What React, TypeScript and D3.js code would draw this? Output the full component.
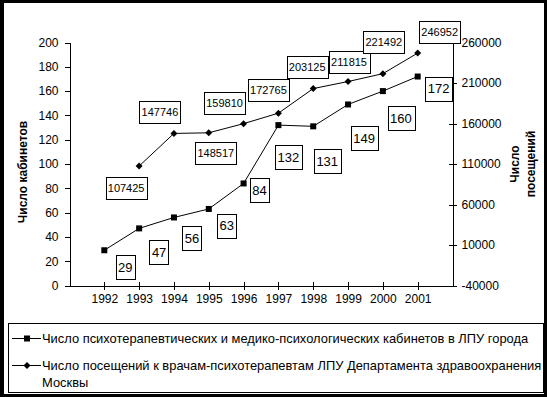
import React, { useEffect, useRef } from 'react';
import * as d3 from 'd3';

// data
const years = ['1992', '1993', '1994', '1995', '1996', '1997', '1998', '1999', '2000', '2001'];
const cabinets = [29, 47, 56, 63, 84, 132, 131, 149, 160, 172];
const visits: (number | null)[] = [null, 107425, 147746, 148517, 159810, 172765, 203125, 211815, 221492, 246952];
const leftTicks = [0, 20, 40, 60, 80, 100, 120, 140, 160, 180, 200];
const rightTicks = [-40000, 10000, 60000, 110000, 160000, 210000, 260000];
const cabinetsName = 'Число психотерапевтических и медико-психологических кабинетов в ЛПУ города';
const visitsName = ['Число посещений к врачам-психотерапевтам ЛПУ Департамента здравоохранения', 'Москвы'];
const leftTitle = 'Число кабинетов';
const rightTitle = ['Число', 'посещений'];

// hand-placed data label offsets from their points (layout, as in the original chart)
const cabLabelOffset = [[21, 17], [20, 24], [18, 21], [18, 17], [16, 7], [10, 32], [14, 35], [16, 34], [18, 27], [21, 12]];
const visLabelOffset = [[0, 0], [-13, 22], [-14, -21], [7, 20], [-19, -21], [-10, -23], [-6, -22], [1, -20], [1, -32], [22, -21]];

const W = 547;
const H = 397;
const FONT = 'Arial, "Liberation Sans", sans-serif';

function App() {
  const ref = useRef<SVGSVGElement>(null);

  useEffect(() => {
    const svg = d3.select(ref.current);
    svg.selectAll('*').remove();

    svg.append('rect').attr('width', W).attr('height', H).attr('fill', '#000');
    svg.append('rect').attr('x', 4).attr('y', 3).attr('width', 540).attr('height', 391).attr('fill', '#fff');

    const x = d3.scalePoint<string>().domain(years).range([69.5, 452.5]).padding(1);
    const yL = d3.scaleLinear().domain([0, 200]).range([285.5, 42.5]);
    const yR = d3.scaleLinear().domain([-40000, 260000]).range([285.5, 42.5]);

    const styleAxis = (g: any) => {
      g.attr('font-family', FONT).attr('font-size', 12);
      g.selectAll('path, line').attr('stroke', '#000').attr('shape-rendering', 'crispEdges');
      g.selectAll('text').attr('fill', '#000');
    };

    // left axis
    svg.append('g')
      .attr('transform', `translate(${x.range()[0]},0)`)
      .call(d3.axisLeft(yL).tickValues(leftTicks).tickSize(5).tickSizeOuter(0).tickPadding(6))
      .call(styleAxis);

    // right axis, crossing ticks
    const right = svg.append('g')
      .attr('transform', `translate(${x.range()[1]},0)`)
      .call(d3.axisRight(yR).tickValues(rightTicks).tickFormat(d => String(d)).tickSize(4).tickSizeOuter(0).tickPadding(5))
      .call(styleAxis);
    right.selectAll('.tick line').attr('x1', -4);

    // bottom axis, crossing ticks
    const bottom = svg.append('g')
      .attr('transform', `translate(0,${yL(0)})`)
      .call(d3.axisBottom(x).tickSize(4).tickSizeOuter(0).tickPadding(5))
      .call(styleAxis);
    bottom.selectAll('.tick line').attr('y1', -4);

    // axis titles
    svg.append('text')
      .attr('transform', `translate(23,172) rotate(-90)`)
      .attr('text-anchor', 'middle')
      .attr('dominant-baseline', 'central')
      .attr('font-family', FONT)
      .attr('font-size', 12)
      .attr('font-weight', 'bold')
      .text(leftTitle);

    rightTitle.forEach((t, i) => {
      svg.append('text')
        .attr('transform', `translate(${515 + i * 16},164) rotate(-90)`)
        .attr('text-anchor', 'middle')
        .attr('dominant-baseline', 'central')
        .attr('font-family', FONT)
        .attr('font-size', 12)
        .attr('font-weight', 'bold')
        .text(t);
    });

    // lines
    const cabLine = d3.line<number>()
      .x((d, i) => x(years[i])!)
      .y(d => yL(d));
    const visLine = d3.line<number | null>()
      .defined(d => d != null)
      .x((d, i) => x(years[i])!)
      .y(d => yR(d as number));

    svg.append('path').attr('d', visLine(visits)).attr('fill', 'none').attr('stroke', '#000').attr('stroke-width', 1);
    svg.append('path').attr('d', cabLine(cabinets)).attr('fill', 'none').attr('stroke', '#000').attr('stroke-width', 1);

    const diamond = (cx: number, cy: number, r: number) =>
      `M${cx},${cy - r}L${cx + r},${cy}L${cx},${cy + r}L${cx - r},${cy}Z`;

    // markers
    svg.selectAll('.cab-pt')
      .data(cabinets)
      .enter()
      .append('rect')
      .attr('class', 'cab-pt')
      .attr('x', (d, i) => x(years[i])! - 3)
      .attr('y', d => yL(d) - 3)
      .attr('width', 6)
      .attr('height', 6)
      .attr('fill', '#000');

    svg.selectAll('.vis-pt')
      .data(visits.map((v, i) => ({ v, i })).filter(d => d.v != null))
      .enter()
      .append('path')
      .attr('class', 'vis-pt')
      .attr('d', d => diamond(x(years[d.i])!, yR(d.v as number), 3.5))
      .attr('fill', '#000');

    // data labels
    const labels = [
      ...cabinets.map((v, i) => ({
        text: String(v),
        cx: x(years[i])! + cabLabelOffset[i][0],
        cy: yL(v) + cabLabelOffset[i][1],
        size: 13, w: String(v).length * 7.2 + 5, h: 24,
      })),
      ...visits.map((v, i) => ({ v, i })).filter(d => d.v != null).map(({ v, i }) => ({
        text: String(v),
        cx: x(years[i])! + visLabelOffset[i][0],
        cy: yR(v as number) + visLabelOffset[i][1],
        size: 11, w: 41, h: 22,
      })),
    ];

    const lab = svg.selectAll('.lab').data(labels).enter().append('g').attr('class', 'lab');
    lab.append('rect')
      .attr('x', d => Math.round(d.cx - d.w / 2) + 0.5)
      .attr('y', d => Math.round(d.cy - d.h / 2) + 0.5)
      .attr('width', d => Math.round(d.w))
      .attr('height', d => d.h)
      .attr('fill', '#fff')
      .attr('stroke', '#000');
    lab.append('text')
      .attr('x', d => d.cx)
      .attr('y', d => d.cy)
      .attr('text-anchor', 'middle')
      .attr('dominant-baseline', 'central')
      .attr('font-family', FONT)
      .attr('font-size', d => d.size)
      .text(d => d.text);

    // legend
    const legend = svg.append('g');
    legend.append('clipPath').attr('id', 'legclip')
      .append('rect').attr('x', 8).attr('y', 323).attr('width', 535).attr('height', 70);
    legend.append('rect')
      .attr('x', 8.5).attr('y', 323.5).attr('width', 535).attr('height', 69)
      .attr('fill', '#fff').attr('stroke', '#000');

    const rows = [
      { y: 338, text: [cabinetsName], marker: 'square' },
      { y: 365, text: visitsName, marker: 'diamond' },
    ];
    const lg = legend.append('g').attr('clip-path', 'url(#legclip)');
    rows.forEach(r => {
      lg.append('line')
        .attr('x1', 12).attr('x2', 41).attr('y1', r.y + 0.5).attr('y2', r.y + 0.5)
        .attr('stroke', '#000');
      if (r.marker === 'square') {
        lg.append('rect').attr('x', 24).attr('y', r.y - 2.5).attr('width', 6).attr('height', 6).attr('fill', '#000');
      } else {
        lg.append('path').attr('d', diamond(27, r.y + 0.5, 3.5)).attr('fill', '#000');
      }
      r.text.forEach((t, j) => {
        lg.append('text')
          .attr('x', 42)
          .attr('y', r.y + j * 17)
          .attr('dominant-baseline', 'central')
          .attr('font-family', FONT)
          .attr('font-size', 12.9)
          .text(t);
      });
    });
  }, []);

  return (
    <svg
      ref={ref}
      width={W}
      height={H}
      style={{ position: 'absolute', left: 0, top: 0, display: 'block' }}
    />
  );
}

export default App;
